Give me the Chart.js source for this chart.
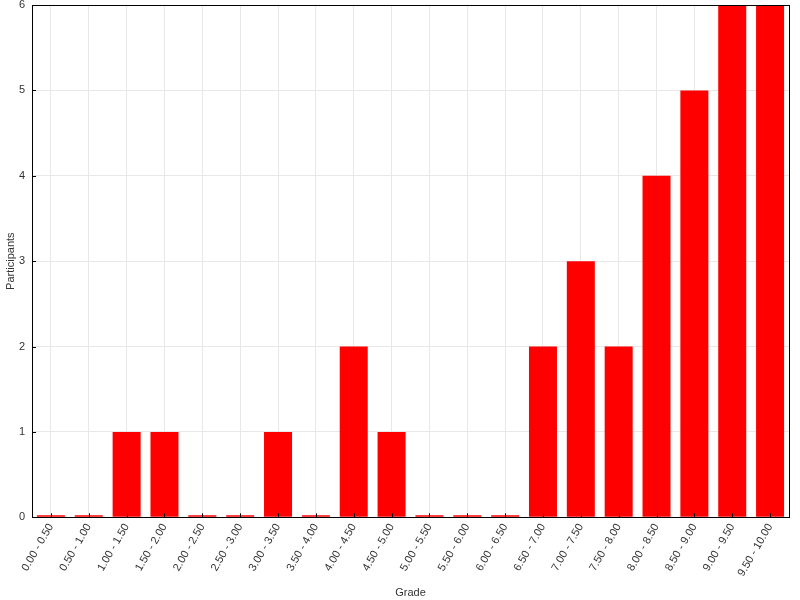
<!DOCTYPE html>
<html>
<head>
<meta charset="utf-8">
<script src="https://cdn.jsdelivr.net/npm/chart.js@4/dist/chart.umd.min.js"></script>
<style>
  html, body { margin: 0; padding: 0; background: #fff; }
  #wrap { width: 800px; height: 600px; }
</style>
</head>
<body>
<div id="wrap"><canvas id="gradeChart"></canvas></div>
<script>
// grade buckets and participant counts
const gradeLabels = [
    "0.00 - 0.50", "0.50 - 1.00", "1.00 - 1.50", "1.50 - 2.00", "2.00 - 2.50",
    "2.50 - 3.00", "3.00 - 3.50", "3.50 - 4.00", "4.00 - 4.50", "4.50 - 5.00",
    "5.00 - 5.50", "5.50 - 6.00", "6.00 - 6.50", "6.50 - 7.00", "7.00 - 7.50",
    "7.50 - 8.00", "8.00 - 8.50", "8.50 - 9.00", "9.00 - 9.50", "9.50 - 10.00"
];
const participants = [0, 0, 1, 1, 0, 0, 1, 0, 2, 1, 0, 0, 0, 2, 3, 2, 4, 5, 6, 6];
const yTicks = [0, 1, 2, 3, 4, 5, 6];

/* frame + inner tick marks */
const framePlugin = {
    id: "frame",
    afterDatasetsDraw(chart) {
        const ctx = chart.ctx;
        const a = chart.chartArea;
        const xs = chart.scales.x;
        const ys = chart.scales.y;
        ctx.save();
        ctx.strokeStyle = "#000";
        ctx.lineWidth = 1;
        ctx.beginPath();
        for (let i = 0; i < xs.ticks.length; i++) {
            const px = Math.round(xs.getPixelForTick(i)) + 0.5;
            ctx.moveTo(px, a.bottom);
            ctx.lineTo(px, a.bottom - 4);
        }
        for (let i = 0; i < ys.ticks.length; i++) {
            const py = Math.round(ys.getPixelForTick(i)) + 0.5;
            ctx.moveTo(a.left, py);
            ctx.lineTo(a.left + 4, py);
        }
        ctx.stroke();
        ctx.strokeRect(Math.round(a.left) + 0.5, Math.round(a.top) + 0.5,
            Math.round(a.right - a.left), Math.round(a.bottom - a.top));
        ctx.restore();
    }
};

Chart.defaults.font.family = "'Liberation Sans', Arial, sans-serif";
Chart.defaults.font.size = 11;
Chart.defaults.color = "#333";

new Chart(document.getElementById("gradeChart").getContext("2d"), {
    type: "bar",
    data: {
        labels: gradeLabels,
        datasets: [{
            label: "Participants",
            data: participants,
            backgroundColor: "#ff0000",
            borderWidth: 0,
            minBarLength: 2,
            categoryPercentage: 1,
            barPercentage: 0.74
        }]
    },
    options: {
        responsive: true,
        maintainAspectRatio: false,
        animation: false,
        layout: { padding: { top: 5, right: 11, left: 4, bottom: 0 } },
        plugins: {
            legend: { display: false },
            tooltip: { enabled: false }
        },
        scales: {
            x: {
                afterFit(scale) {
                    scale.paddingLeft = 0;
                    scale.paddingRight = 0;
                },
                grid: { offset: false, color: "#e8e8e8", drawTicks: false },
                border: { display: false },
                ticks: { minRotation: 60, maxRotation: 60, padding: 4, color: "#333" },
                title: { display: true, text: "Grade", color: "#333", padding: { top: 4, bottom: 0 } }
            },
            y: {
                min: 0,
                max: 6,
                afterBuildTicks(scale) {
                    scale.ticks = yTicks.map(v => ({ value: v }));
                },
                afterFit(scale) {
                    scale.width = 28;
                    scale.paddingTop = 0;
                    scale.paddingBottom = 0;
                },
                grid: { color: "#e8e8e8", drawTicks: false },
                border: { display: false },
                ticks: { padding: 7, color: "#333" },
                title: { display: true, text: "Participants", color: "#333", padding: { top: 0, bottom: 2 } }
            }
        }
    },
    plugins: [framePlugin]
});
</script>
</body>
</html>
